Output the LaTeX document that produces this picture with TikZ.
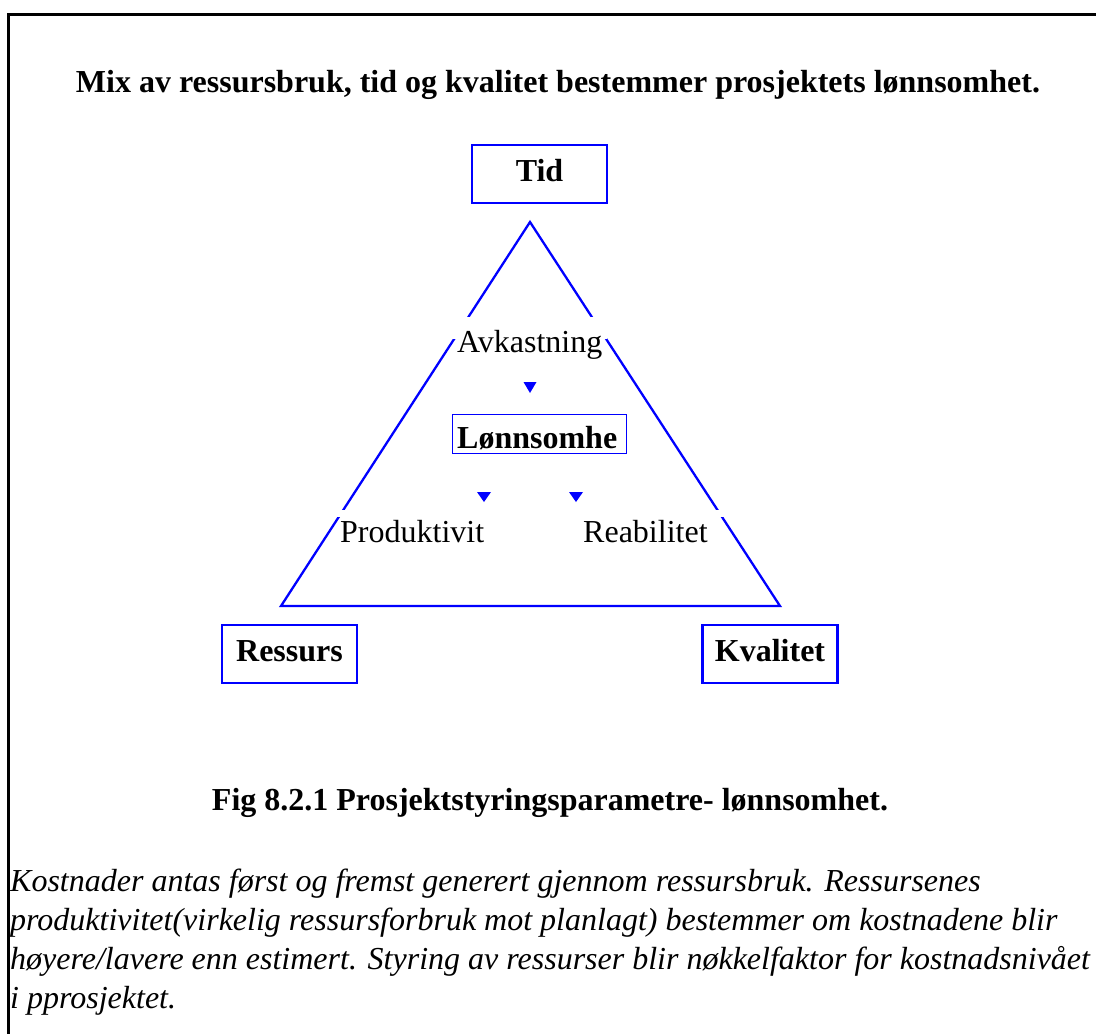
\documentclass[tikz,border=0pt]{standalone}
\usepackage{fontspec}
\setmainfont{Liberation Serif}
\begin{document}
\begin{tikzpicture}[x=1pt,y=-1pt,
  big/.style={font=\fontsize{32}{38}\selectfont},
  bigbold/.style={font=\bfseries\fontsize{32}{38}\selectfont},
  para/.style={font=\itshape\fontsize{32}{39}\selectfont, anchor=base west, inner sep=0pt},
  plain/.style={anchor=base west, inner sep=0pt},
  cornerbox/.style={draw=blue, line width=2.5pt, minimum width=135pt, minimum height=58pt,
    inner sep=0pt, text height=22pt, text depth=8pt, bigbold},
  tri/.style={draw=blue, line width=2.3pt},
  mask/.style={fill=white, draw=none},
  tip/.style={fill=blue, draw=none}
]
\useasboundingbox (0,0) rectangle (1096,1034);

% frame: top and left edges only
\draw[line width=3pt] (8,1040) -- (8,14) -- (1100,14);

% heading
\node[bigbold, anchor=base, inner sep=0pt] (title) at (558,92)
  {Mix av ressursbruk, tid og kvalitet bestemmer prosjektets lønnsomhet.};

% corner boxes
\node[cornerbox] (tid) at (539.5,174) {Tid};
\node[cornerbox] (ressurs) at (289.5,654) {Ressurs};
\node[cornerbox] (kvalitet) at (770,654) {Kvalitet};

% triangle
\coordinate (apex) at (530,222);
\coordinate (bl) at (281,606);
\coordinate (br) at (780,606);
\draw[tri, line join=miter] (apex) -- (bl) -- (br) -- cycle;

% white backgrounds of the labels cut the triangle sides
\fill[mask] (452,317) rectangle (607,339);
\fill[mask] (336,509.5) rectangle (490,517);
\fill[mask] (578,509.5) rectangle (724,517);

% labels inside the triangle
\node[plain, big] (avk) at (457,352) {Avkastning};
\node[draw=blue, line width=1pt, minimum width=174pt, minimum height=39pt, inner sep=0pt]
  (lbox) at (539,433.5) {};
\node[plain, bigbold] (lonn) at (457,448) {Lønnsomhe};
\node[plain, big] (prod) at (340,542) {Produktivit};
\node[plain, big] (reab) at (583,542) {Reabilitet};

% arrow tips
\fill[tip] (523.5,382) -- (536.5,382) -- (530,393) -- cycle;
\fill[tip] (477,492) -- (491,492) -- (484,502) -- cycle;
\fill[tip] (569,492) -- (583,492) -- (576,502) -- cycle;

% caption
\node[bigbold, anchor=base, inner sep=0pt] (cap) at (550,810)
  {Fig 8.2.1 Prosjektstyringsparametre- lønnsomhet.};

% explanatory text
\node[para] (p1) at (10,891) {Kostnader antas først og fremst generert gjennom ressursbruk. Ressursenes};
\node[para] (p2) at (10,930) {produktivitet(virkelig ressursforbruk mot planlagt) bestemmer om kostnadene blir};
\node[para] (p3) at (10,969) {høyere/lavere enn estimert. Styring av ressurser blir nøkkelfaktor for kostnadsnivået};
\node[para] (p4) at (10,1008) {i pprosjektet.};
\end{tikzpicture}
\end{document}
